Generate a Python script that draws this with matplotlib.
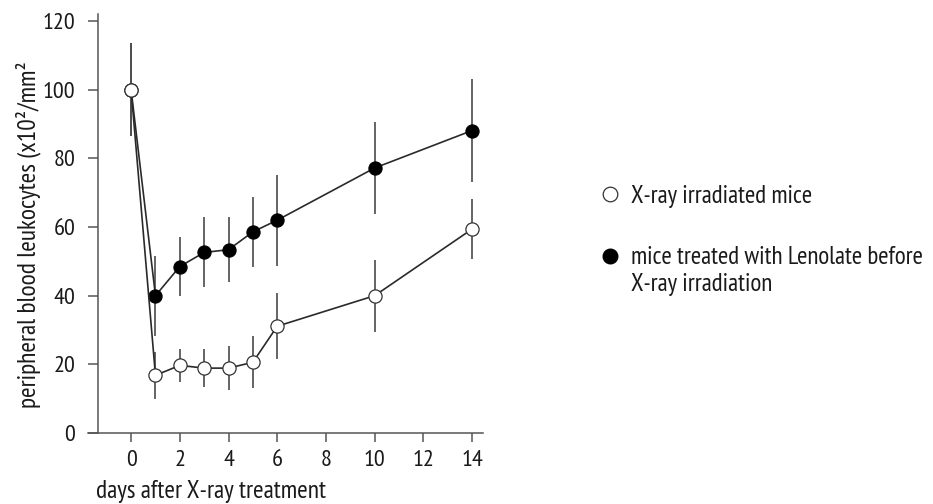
import matplotlib
matplotlib.use("Agg")
import matplotlib.pyplot as plt
from matplotlib import font_manager
from matplotlib.lines import Line2D

# pick a condensed humanist font, close to the one in the original figure
names = {f.name for f in font_manager.fontManager.ttflist}
fam = 'Liberation Sans'
for cand in ['PT Sans Narrow', 'Fira Sans Condensed', 'Open Sans Condensed',
             'Asap Condensed', 'Archivo Narrow']:
    if cand in names:
        fam = cand
        break
plt.rcParams['font.family'] = [fam, 'DejaVu Sans']

# data
days_xray = [0, 1, 2, 3, 4, 5, 6, 10, 14]
xray = [100, 16.8, 19.7, 18.9, 18.9, 20.6, 31.1, 40.0, 59.4]
xray_err = [13.5, 6.8, 4.8, 5.5, 6.5, 7.6, 9.6, 10.5, 8.7]

days_len = [0, 1, 2, 3, 4, 5, 6, 10, 14]
lenolate = [100, 40.0, 48.5, 52.6, 53.4, 58.6, 62.0, 77.2, 88.1]
lenolate_err = [13.5, 11.7, 8.5, 10.2, 9.5, 10.2, 13.3, 13.4, 15.0]

xticks = [0, 2, 4, 6, 8, 10, 12, 14]
yticks = [0, 20, 40, 60, 80, 100, 120]

fig = plt.figure(figsize=(9.33, 5.04), dpi=100)
ax = fig.add_axes([88 / 933, 71 / 504, 395 / 933, 418.8 / 504])

line_col = '#2a2a2a'
err_col = '#4a4a4a'
spine_col = '#555555'
txt_col = '#1a1a1a'

ax.errorbar(days_len, lenolate, yerr=lenolate_err, fmt='o-', color=line_col,
            ecolor=err_col, elinewidth=1.2, capsize=0, lw=1.2,
            ms=9.5, mfc='black', mec='black', mew=0.8, zorder=2)
ax.errorbar(days_xray, xray, yerr=xray_err, fmt='o-', color=line_col,
            ecolor=err_col, elinewidth=1.2, capsize=0, lw=1.2,
            ms=9.5, mfc='white', mec='#333333', mew=0.9, zorder=3)

ax.set_xlim(-1.77, 14.45)
ax.set_ylim(0, 122)

ax.spines['top'].set_visible(False)
ax.spines['right'].set_visible(False)
ax.spines['left'].set_position(('data', -1.36))
ax.spines['left'].set_bounds(0, 122)
for s in ['left', 'bottom']:
    ax.spines[s].set_color(spine_col)
    ax.spines[s].set_linewidth(1.1)

ax.set_xticks(xticks)
ax.set_yticks(yticks)
ax.tick_params(axis='x', direction='out', length=6.5, width=1.1, color=spine_col,
               pad=6, labelsize=17.5, labelcolor=txt_col)
ax.tick_params(axis='y', direction='out', length=7.2, width=1.1, color=spine_col,
               pad=9, labelsize=17.5, labelcolor=txt_col)

ax.set_xlabel('days after X-ray treatment', fontsize=18.3, color=txt_col,
              ha='left', va='baseline')
ax.xaxis.set_label_coords(0.02, -0.155)
ax.set_ylabel('peripheral blood leukocytes (x10²/mm²', fontsize=18.3,
              color=txt_col, ha='center', va='center')
ax.yaxis.set_label_coords(-0.152, 0.473)

# legend, two parts so the filled circle sits on the first text line
h_open = Line2D([], [], ls='none', marker='o', ms=10.5, mfc='white',
                mec='#333333', mew=0.9)
h_fill = Line2D([], [], ls='none', marker='o', ms=10.5, mfc='black', mec='black')
h_none = Line2D([], [], ls='none')

leg_kw = dict(loc='center left', frameon=False, fontsize=18.0, handlelength=1.05,
              handletextpad=0.3, borderpad=0, borderaxespad=0,
              labelcolor=txt_col, bbox_transform=fig.transFigure)
leg1 = fig.legend([h_open], ['X-ray irradiated mice'],
                  bbox_to_anchor=(597 / 933, (504 - 196) / 504), **leg_kw)
leg2 = fig.legend([h_fill, h_none],
                  ['mice treated with Lenolate before', 'X-ray irradiation'],
                  bbox_to_anchor=(597 / 933, (504 - 271) / 504),
                  labelspacing=0.12, **leg_kw)

fig.savefig('out.png', dpi=100)
